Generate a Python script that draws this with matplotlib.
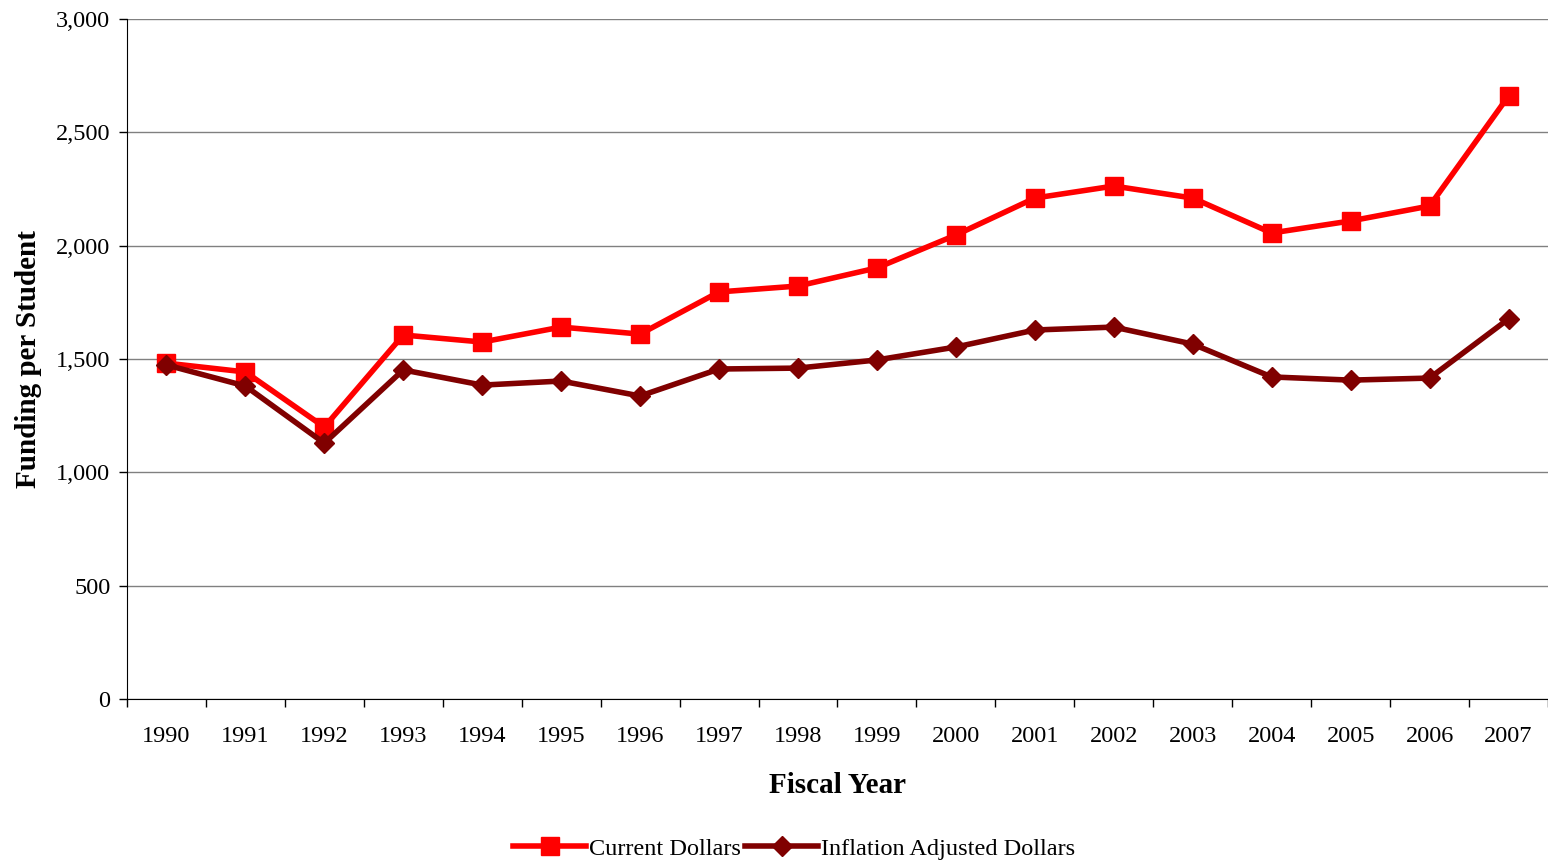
import numpy as np
import matplotlib
matplotlib.use("Agg")
import matplotlib.pyplot as plt
from matplotlib.ticker import FuncFormatter

years = ["1990", "1991", "1992", "1993", "1994", "1995", "1996", "1997", "1998",
         "1999", "2000", "2001", "2002", "2003", "2004", "2005", "2006", "2007"]
current_dollars = [1482, 1443, 1200, 1606, 1575, 1641, 1610, 1796, 1822,
                   1902, 2047, 2210, 2263, 2210, 2056, 2109, 2175, 2660]
inflation_adjusted = [1474, 1381, 1129, 1452, 1385, 1403, 1337, 1456, 1460,
                      1496, 1553, 1628, 1641, 1566, 1421, 1407, 1416, 1677]

plt.rcParams['font.family'] = ['Liberation Serif', 'DejaVu Serif']

fig = plt.figure(figsize=(15.48, 8.61), dpi=100)
ax = fig.add_axes([0.082, 0.188, 0.918, 0.790])

x = np.arange(len(years))
ax.plot(x, current_dollars, color="#ff0000", lw=4, marker="s", ms=13,
        label="Current Dollars", zorder=3)
ax.plot(x, inflation_adjusted, color="#800000", lw=4, marker="D", ms=10,
        label="Inflation Adjusted Dollars", zorder=4)

ax.set_xlim(-0.5, len(years) - 0.5)
ax.set_ylim(0, 3000)
ax.set_yticks(np.arange(0, 3001, 500))
ax.yaxis.set_major_formatter(FuncFormatter(lambda v, p: f"{int(v):,}"))
ax.yaxis.grid(True, color="#808080", lw=1)
ax.set_axisbelow(True)

ax.set_xticks(np.arange(-0.5, len(years), 1))
ax.set_xticklabels([])
ax.set_xticks(x, minor=True)
ax.set_xticklabels(years, minor=True)
ax.tick_params(axis="x", which="major", length=6, width=1, direction="out")
ax.tick_params(axis="x", which="minor", length=0, pad=19, labelsize=17.5)
ax.tick_params(axis="y", length=6, width=1, labelsize=17.5, pad=6)

ax.spines["top"].set_visible(False)
ax.spines["right"].set_visible(False)

ax.set_xlabel("Fiscal Year", fontsize=21, fontweight="bold", labelpad=18)
ax.set_ylabel("Funding per Student", fontsize=21, fontweight="bold", labelpad=10)

fig.legend(loc="lower center", bbox_to_anchor=(0.513, -0.024), ncol=2, frameon=False,
           fontsize=17.5, handlelength=3.0, handletextpad=0.1, columnspacing=0.2)

fig.savefig("out.png", dpi=100)
